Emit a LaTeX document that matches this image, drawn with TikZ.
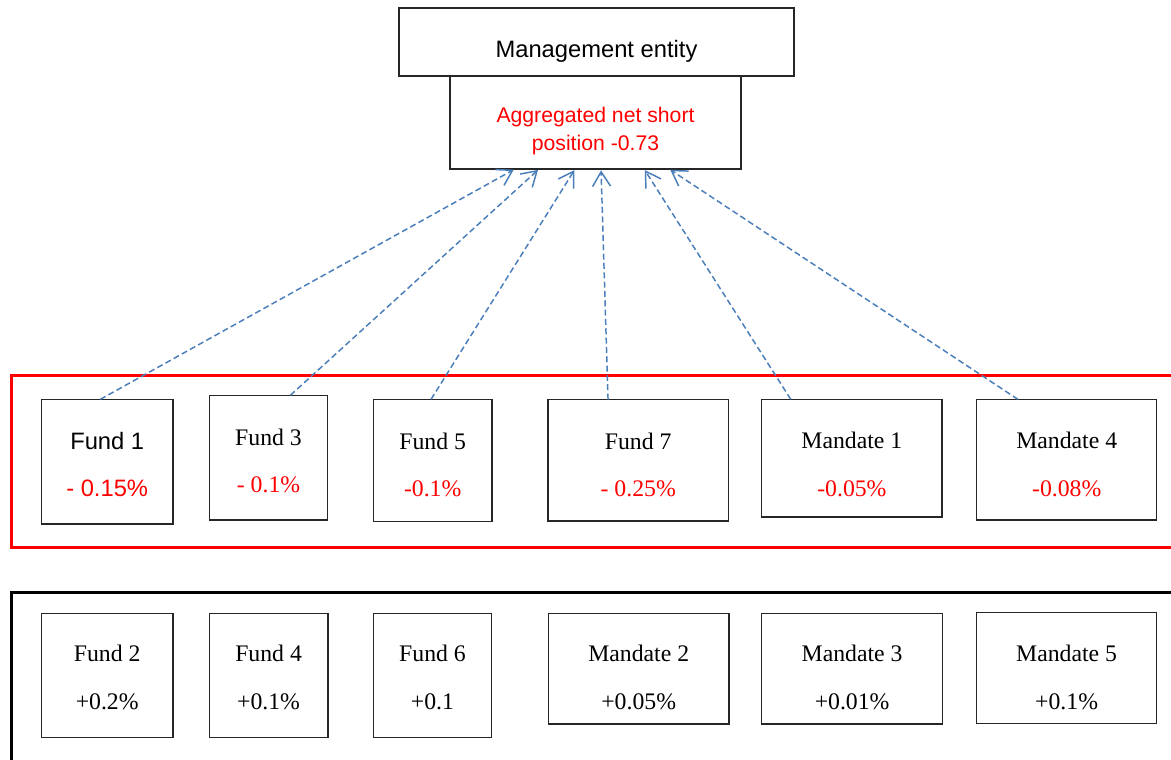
\documentclass[tikz,border=0pt]{standalone}
\usepackage{fontspec}
\setmainfont{Liberation Serif}
\newfontfamily\arialf{Liberation Sans}
\newfontfamily\timesf{Liberation Serif}
\usetikzlibrary{arrows.meta,calc}
\definecolor{linkblue}{HTML}{4A7EBB}
\definecolor{redc}{HTML}{FF0000}
\begin{document}
\begin{tikzpicture}[x=0.75pt,y=-0.75pt,
  box/.style={draw=black!85, line width=0.9pt, inner sep=0pt, outer sep=0pt, fill=white},
  sz/.style 2 args={minimum width=#1*0.75pt, minimum height=#2*0.75pt},
  lbl/.style={anchor=base, inner sep=0pt, font=\timesf\fontsize{17.8}{20}\selectfont},
  albl/.style={lbl, font=\arialf\fontsize{17.8}{20}\selectfont},
  neg/.style={text=redc},
  frame/.style={line width=2.25pt},
  link/.style={draw=linkblue, line width=1.1pt, dash pattern=on 4.5pt off 2.5pt,
    -{Straight Barb[length=11pt,width=13.5pt,line width=1.1pt]}, shorten >=1pt}
]
\clip (0,0) rectangle (1171,760);
\fill[white] (0,0) rectangle (1171,760);

% frames
\draw[frame, draw=redc] (11,375.5) rectangle (1200,547.5);
\draw[frame, draw=black] (11,592) rectangle (1200,800);

% top boxes
\node[box, sz={291}{93}] (agg) at (595.5,122.5) {};
\node[box, sz={395}{68}] (mgmt) at (596.5,42) {};
\node[albl] (mgmtT) at (596.5,57) {Management entity};
\node[albl, neg, font=\arialf\fontsize{15.9}{20}\selectfont] (aggT1) at (595.5,122.7) {Aggregated net short};
\node[albl, neg, font=\arialf\fontsize{15.9}{20}\selectfont] (aggT2) at (595.5,150) {position -0.73};

% row 1
\node[box, sz={131.7}{124.7}] (f1) at (107.2,461.7) {};
\node[box, sz={118.4}{124.7}] (f3) at (268.5,457.7) {};
\node[box, sz={118.7}{122.4}] (f5) at (432.7,460.5) {};
\node[box, sz={180.5}{121.5}] (f7) at (638.2,460.3) {};
\node[box, sz={180.3}{117.7}] (m1) at (851.9,458.2) {};
\node[box, sz={180}{120.7}] (m4) at (1066.7,459.7) {};

\node[albl] (f1a) at (107.2,449) {Fund 1};
\node[albl, neg] (f1b) at (107.2,496.7) {- 0.15\%};
\node[lbl] (f3a) at (268.5,445) {Fund 3};
\node[lbl, neg] (f3b) at (268.5,492) {- 0.1\%};
\node[lbl] (f5a) at (432.7,449) {Fund 5};
\node[lbl, neg] (f5b) at (432.7,496) {-0.1\%};
\node[lbl] (f7a) at (638.2,449) {Fund 7};
\node[lbl, neg] (f7b) at (638.2,496) {- 0.25\%};
\node[lbl] (m1a) at (851.9,448.3) {Mandate 1};
\node[lbl, neg] (m1b) at (851.9,496) {-0.05\%};
\node[lbl] (m4a) at (1066.7,448.3) {Mandate 4};
\node[lbl, neg] (m4b) at (1066.7,496) {-0.08\%};

% row 2
\node[box, sz={131.7}{124}] (f2) at (107.2,675.3) {};
\node[box, sz={118.6}{124}] (f4) at (268.6,675.3) {};
\node[box, sz={118.7}{124}] (f6) at (432.5,675.3) {};
\node[box, sz={180.7}{110.7}] (m2) at (638.7,668.7) {};
\node[box, sz={180.9}{110.7}] (m3) at (852.1,668.7) {};
\node[box, sz={180.2}{110.7}] (m5) at (1066.6,668.0) {};

\node[lbl] (f2a) at (107.2,661) {Fund 2};
\node[lbl] (f2b) at (107.2,709) {+0.2\%};
\node[lbl] (f4a) at (268.6,661) {Fund 4};
\node[lbl] (f4b) at (268.6,709) {+0.1\%};
\node[lbl] (f6a) at (432.5,661) {Fund 6};
\node[lbl] (f6b) at (432.5,709) {+0.1};
\node[lbl] (m2a) at (638.7,661) {Mandate 2};
\node[lbl] (m2b) at (638.7,709) {+0.05\%};
\node[lbl] (m3a) at (852.1,661) {Mandate 3};
\node[lbl] (m3b) at (852.1,709) {+0.01\%};
\node[lbl] (m5a) at (1066.6,661) {Mandate 5};
\node[lbl] (m5b) at (1066.6,709) {+0.1\%};

% connectors
\draw[link] ($(f1.north west)!0.447!(f1.north east)$) -- ($(agg.south west)!0.223!(agg.south east)$);
\draw[link] ($(f3.north west)!0.684!(f3.north east)$) -- ($(agg.south west)!0.306!(agg.south east)$);
\draw[link] ($(f5.north west)!0.486!(f5.north east)$) -- ($(agg.south west)!0.43!(agg.south east)$);
\draw[link] ($(f7.north west)!0.333!(f7.north east)$) -- ($(agg.south west)!0.519!(agg.south east)$);
\draw[link] ($(m1.north west)!0.161!(m1.north east)$) -- ($(agg.south west)!0.667!(agg.south east)$);
\draw[link] ($(m4.north west)!0.229!(m4.north east)$) -- ($(agg.south west)!0.753!(agg.south east)$);
\end{tikzpicture}
\end{document}
